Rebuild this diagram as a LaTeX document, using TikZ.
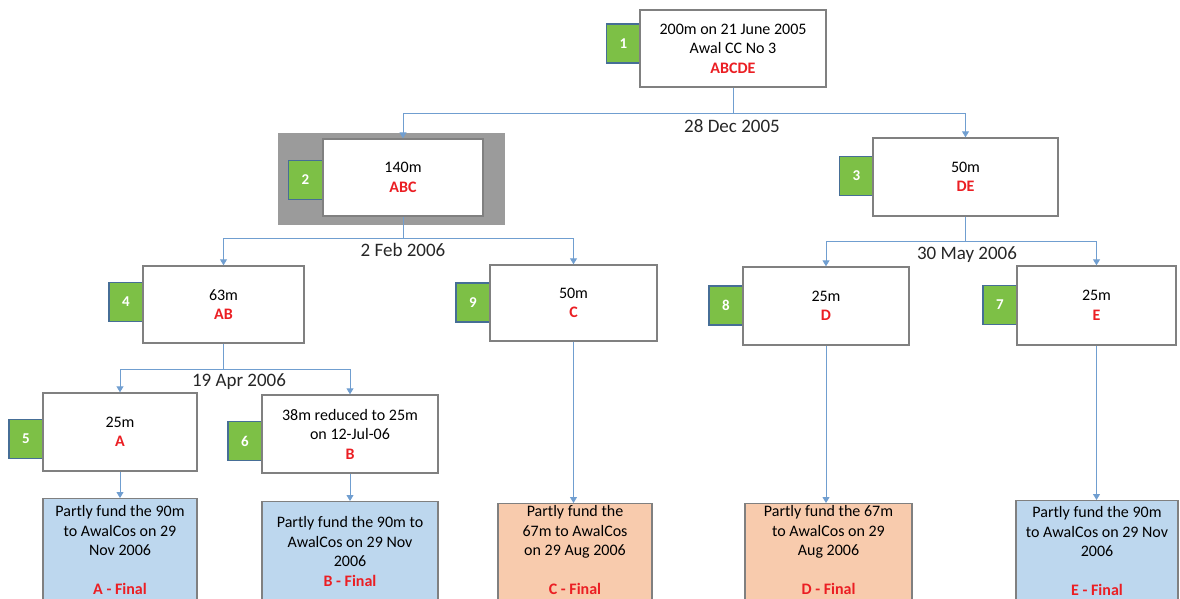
\documentclass[tikz,border=0pt]{standalone}
\usepackage{fontspec}
\setmainfont{Carlito}
\usetikzlibrary{arrows.meta,positioning}
\definecolor{tagfill}{RGB}{125,192,70}
\definecolor{tagedge}{RGB}{70,110,150}
\definecolor{boxedge}{RGB}{128,128,128}
\definecolor{shadegray}{RGB}{155,155,155}
\definecolor{linkblue}{RGB}{112,158,208}
\definecolor{grpred}{RGB}{235,30,35}
\definecolor{fundblue}{RGB}{189,215,238}
\definecolor{fundorange}{RGB}{248,203,173}
\newcommand{\grp}[1]{{\color{grpred}\bfseries #1}}

\begin{document}
\begin{tikzpicture}[x=1pt,y=-1pt,
  stage/.style={draw=boxedge, line width=1.4pt, fill=white, inner sep=0pt,
    align=center, font=\fontsize{16}{19.5}\selectfont},
  tag/.style={draw=tagedge, line width=1.2pt, fill=tagfill, minimum width=34pt,
    minimum height=39pt, inner sep=0pt, text=white,
    font=\fontsize{15}{18}\selectfont\bfseries},
  fund/.style={draw=boxedge, line width=1.4pt, anchor=north, minimum height=120pt},
  fundtext/.style={anchor=north, inner sep=0pt, align=center,
    font=\fontsize{16}{19.5}\selectfont},
  link/.style={draw=linkblue, line width=0.9pt},
  arr/.style={link, -{Triangle[length=6pt,width=7pt]}, linkblue},
  datelbl/.style={anchor=base, inner sep=0pt, text=black!85,
    font=\fontsize{19}{22}\selectfont}]
\useasboundingbox (0,0) rectangle (1180,598);
\clip (0,0) rectangle (1180,598);
% -- shaded frame behind box 2 --
\node[fill=shadegray, minimum width=227pt, minimum height=92pt, inner sep=0pt] (b2bg) at (391.5,179) {};
% -- number tags --
\node[tag] (t1) at (623.5,43.5) {1};
\node[tag] (t2) at (305.5,180) {2};
\node[tag] (t3) at (856.5,176) {3};
\node[tag] (t4) at (126,302) {4};
\node[tag] (t9) at (473,302.5) {9};
\node[tag] (t8) at (726,305.5) {8};
\node[tag] (t7) at (1000,305) {7};
\node[tag] (t5) at (26,439) {5};
\node[tag] (t6) at (245,441) {6};
% -- stage boxes --
\node[stage, minimum width=186pt, minimum height=77pt] (b1) at (733,48.5)
  {200m on 21 June 2005\\Awal CC No 3\\\grp{ABCDE}};
\node[stage, minimum width=160pt, minimum height=77pt] (b2) at (403,177.5) {140m\\\grp{ABC}};
\node[stage, minimum width=185pt, minimum height=78pt] (b3) at (965.5,177) {50m\\\grp{DE}};
\node[stage, minimum width=161pt, minimum height=77pt] (b4) at (223.5,304.5) {63m\\\grp{AB}};
\node[stage, minimum width=167pt, minimum height=76pt] (b9) at (573.5,303) {50m\\\grp{C}};
\node[stage, minimum width=166pt, minimum height=78pt] (b8) at (826,306) {25m\\\grp{D}};
\node[stage, minimum width=159pt, minimum height=79pt] (b7) at (1096.5,305.5) {25m\\\grp{E}};
\node[stage, minimum width=154pt, minimum height=78pt] (b5) at (120,432) {25m\\\grp{A}};
\node[stage, minimum width=176pt, minimum height=78pt] (b6) at (350,434)
  {38m reduced to 25m\\on 12-Jul-06\\\grp{B}};
% -- final funding boxes --
\node[fund, fill=fundblue, minimum width=154pt] (f5) at (120,498) {};
\node[fund, fill=fundblue, minimum width=176pt] (f6) at (350,501) {};
\node[fund, fill=fundorange, minimum width=154pt] (f9) at (575,503) {};
\node[fund, fill=fundorange, minimum width=167pt] (f8) at (828.5,503) {};
\node[fund, fill=fundblue, minimum width=162pt] (f7) at (1097,500) {};
\node[fundtext] (x5) at (120,505.5) {Partly fund the 90m\\to AwalCos on 29\\Nov 2006\\[19.5pt]\grp{A - Final}};
\node[fundtext] (x6) at (350,516.5) {Partly fund the 90m to\\AwalCos on 29 Nov\\2006\\\grp{B - Final}};
\node[fundtext] (x9) at (575,505.5) {Partly fund the\\67m to AwalCos\\on 29 Aug 2006\\[19.5pt]\grp{C - Final}};
\node[fundtext] (x8) at (828.5,505.5) {Partly fund the 67m\\to AwalCos on 29\\Aug 2006\\[19.5pt]\grp{D - Final}};
\node[fundtext] (x7) at (1097,506.5) {Partly fund the 90m\\to AwalCos on 29 Nov\\2006\\[19.5pt]\grp{E - Final}};
% -- split points and dates --
\coordinate (j1) at (733,113);
\coordinate (j2) at (403,238);
\coordinate (j3) at (965.5,241);
\coordinate (j4) at (223.5,369);
\node[datelbl] (d1) at (732,132) {28 Dec 2005};
\node[datelbl] (d2) at (403,256) {2 Feb 2006};
\node[datelbl] (d3) at (967,259) {30 May 2006};
\node[datelbl] (d4) at (239,386) {19 Apr 2006};
% -- connectors --
\draw[link] (b1.south) -- (j1);
\draw[arr] (j1) -| (b2.north);
\draw[arr] (j1) -| (b3.north);
\draw[link] (b2.south) -- (j2);
\draw[arr] (j2) -| (b4.north);
\draw[arr] (j2) -| (b9.north);
\draw[link] (b3.south) -- (j3);
\draw[arr] (j3) -| (b8.north);
\draw[arr] (j3) -| (b7.north);
\draw[link] (b4.south) -- (j4);
\draw[arr] (j4) -| (b5.north);
\draw[arr] (j4) -| (b6.north);
\draw[arr] (b5.south) -- (f5.north);
\draw[arr] (b6.south) -- (f6.north);
\draw[arr] (b9.south) -- (b9.south |- f9.north);
\draw[arr] (b8.south) -- (b8.south |- f8.north);
\draw[arr] (b7.south) -- (b7.south |- f7.north);
\end{tikzpicture}
\end{document}
